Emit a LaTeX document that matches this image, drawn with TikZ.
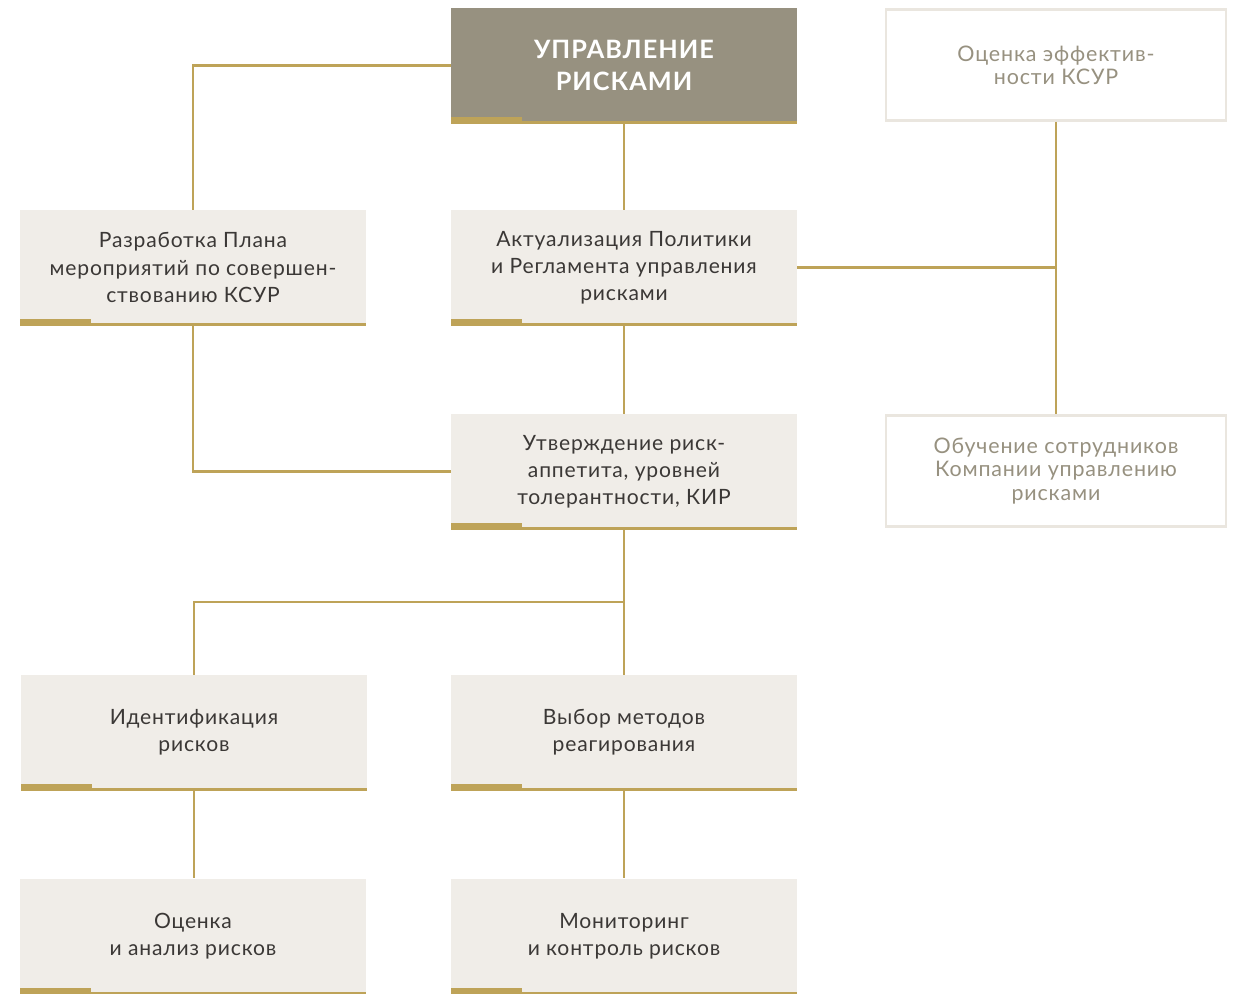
\documentclass[tikz,border=0pt]{standalone}
\usepackage{fontspec}
\setmainfont{Lato}[LetterSpace=4]
\definecolor{gold}{RGB}{190,163,88}
\definecolor{taupe}{RGB}{151,145,128}
\definecolor{pale}{RGB}{240,237,232}
\definecolor{ink}{RGB}{59,56,54}
\definecolor{edge}{RGB}{234,230,223}
\tikzset{
  box/.style={minimum width=6.92cm,minimum height=2.30cm,inner sep=0pt,align=center,
    fill=pale,text=ink,font=\fontsize{12}{15.4}\selectfont},
  headbox/.style={box,fill=taupe,text=white,font=\bfseries\fontsize{14.4}{17.8}\selectfont},
  sidebox/.style={box,fill=white,draw=edge,line width=1.6pt,minimum width=6.80cm,minimum height=2.22cm,
    text=taupe,font=\fontsize{12.2}{13.2}\selectfont},
  link/.style={draw=gold,line width=1.5pt},
}
\begin{document}
\begin{tikzpicture}[x=0.02cm,y=-0.02cm]
\useasboundingbox (0,0) rectangle (1242,994);
% --- boxes ---
\node[headbox] (head) at (624,65.5) {УПРАВЛЕНИЕ\\РИСКАМИ};
\node[sidebox] (eval) at (1056,65) {Оценка эффектив-\\ности КСУР};
\node[box] (plan) at (193,267.5) {Разработка Плана\\мероприятий по совершен-\\ствованию КСУР};
\node[box] (policy) at (624,267.5) {Актуализация Политики\\и Регламента управления\\рисками};
\node[box] (appetite) at (624,471.5) {Утверждение риск-\\аппетита, уровней\\толерантности, КИР};
\node[sidebox] (train) at (1056,471) {Обучение сотрудников\\Компании управлению\\рисками};
\node[box] (ident) at (194,732.5) {Идентификация\\рисков};
\node[box] (react) at (624,732.5) {Выбор методов\\реагирования};
\node[box] (assess) at (193,936) {Оценка\\и анализ рисков};
\node[box] (monitor) at (624,936) {Мониторинг\\и контроль рисков};
% --- underlines ---
\foreach \b in {head,plan,policy,appetite,ident,react,assess,monitor}{
  \fill[gold] ([yshift=-0.2pt]\b.south west) rectangle ([yshift=1.2pt]\b.south east);
  \fill[gold] ([yshift=-0.2pt]\b.south west) rectangle ([xshift=1.42cm,yshift=3.4pt]\b.south west);
}
% --- connectors ---
\coordinate (hub) at (eval.south |- policy.east);
\coordinate (fork) at (appetite.south |- 0,602);
\draw[link] (head.west) -| (plan.north);
\draw[link] (head.south) -- (policy.north);
\draw[link] (policy.south) -- (appetite.north);
\draw[link] (plan.south) |- (appetite.west);
\draw[link] (policy.east) -- (hub);
\draw[link] (eval.south) -- (train.north);
\draw[link] (appetite.south) -- (react.north);
\draw[link] (fork) -| (ident.north);
\draw[link] (ident.south) -- (ident.south |- assess.north);
\draw[link] (react.south) -- (monitor.north);
\end{tikzpicture}
\end{document}
